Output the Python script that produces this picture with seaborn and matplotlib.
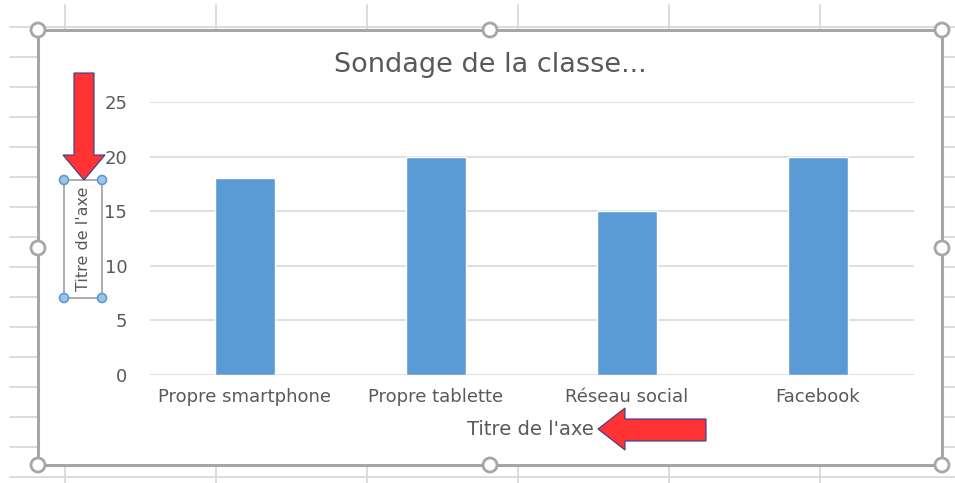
import matplotlib
matplotlib.use("Agg")
import matplotlib.pyplot as plt
import seaborn as sns
import pandas as pd
from matplotlib.patches import Rectangle, Circle, Polygon

categories = ["Propre smartphone", "Propre tablette", "Réseau social", "Facebook"]
values = [18, 20, 15, 20]
y_ticks = [0, 5, 10, 15, 20, 25]
title = "Sondage de la classe..."
axis_title = "Titre de l'axe"

sns.set_theme(style="white")
plt.rcParams['font.family'] = ['DejaVu Sans']

W, H = 955, 483
fig = plt.figure(figsize=(W / 100, H / 100), dpi=100)
fig.patch.set_facecolor("white")

# Background spreadsheet layer in pixel coordinates
bg = fig.add_axes([0, 0, 1, 1])
bg.set_xlim(0, W)
bg.set_ylim(H, 0)
bg.axis("off")
grid_c = "#d9d9d9"
for yy in range(27, 483, 30):
    bg.plot([10, W], [yy, yy], color=grid_c, lw=1.3, zorder=0)
for xx in [65, 216, 367, 518, 669, 820]:
    bg.plot([xx, xx], [5, 483], color=grid_c, lw=1.3, zorder=0)

# chart frame
bg.add_patch(Rectangle((38, 30), 904, 435, facecolor="white", edgecolor="#a6a6a6",
                       lw=2.2, zorder=1))
for (hx, hy) in [(38, 30), (490, 30), (942, 30), (38, 248), (942, 248),
                 (38, 465), (490, 465), (942, 465)]:
    bg.add_patch(Circle((hx, hy), 7, facecolor="white", edgecolor="#a6a6a6",
                        lw=2, zorder=3))

# selected y axis title box
bg.add_patch(Rectangle((64, 180), 38, 118, facecolor="none", edgecolor="#a6a6a6",
                       lw=1.3, zorder=2))
for (hx, hy) in [(64, 180), (102, 180), (64, 298), (102, 298)]:
    bg.add_patch(Circle((hx, hy), 4.5, facecolor="#9dc3e6", edgecolor="#5b9bd5",
                        lw=1.2, zorder=3))

# red arrows
bg.add_patch(Polygon([(74, 73), (94, 73), (94, 155), (105, 155), (84, 180),
                      (63, 155), (74, 155)], closed=True, facecolor="#ff3333",
                     edgecolor="#2f3f8f", lw=0.8, zorder=5))
bg.add_patch(Polygon([(598, 429), (625, 408), (625, 419), (706, 419), (706, 441),
                      (625, 441), (625, 450)], closed=True, facecolor="#ff3333",
                     edgecolor="#2f3f8f", lw=0.8, zorder=5))

# title
bg.text(490, 65, title, ha="center", va="center", fontsize=19.5, color="#595959", zorder=4)

# plot area
left, right, top, bottom = 149.5, 913.5, 102, 375
ax = fig.add_axes([left / W, (H - bottom) / H, (right - left) / W, (bottom - top) / H])
ax.set_facecolor("none")
df = pd.DataFrame({"cat": categories, "val": values})
sns.barplot(data=df, x="cat", y="val", color="#5b9bd5", width=0.31, saturation=1,
            ax=ax, zorder=3)
ax.set_ylim(0, 25)
ax.set_yticks(y_ticks)
ax.set_xlim(-0.5, len(categories) - 0.5)
ax.yaxis.grid(True, color="#d9d9d9", lw=1.2, zorder=0)
ax.set_axisbelow(True)
for s in ax.spines.values():
    s.set_visible(False)
ax.tick_params(axis="both", length=0, labelsize=13, colors="#595959")
ax.tick_params(axis="y", pad=16)
ax.tick_params(axis="x", pad=9)
ax.set_xlabel(axis_title, fontsize=14, color="#595959")
ax.set_ylabel(axis_title, fontsize=11.5, color="#595959")
ax.xaxis.set_label_coords(0.498, -0.201)
ax.yaxis.set_label_coords(-0.087, 0.498)
ax.xaxis.label.set_va("center")
ax.yaxis.label.set_va("center")

fig.savefig("out.png", dpi=100)
